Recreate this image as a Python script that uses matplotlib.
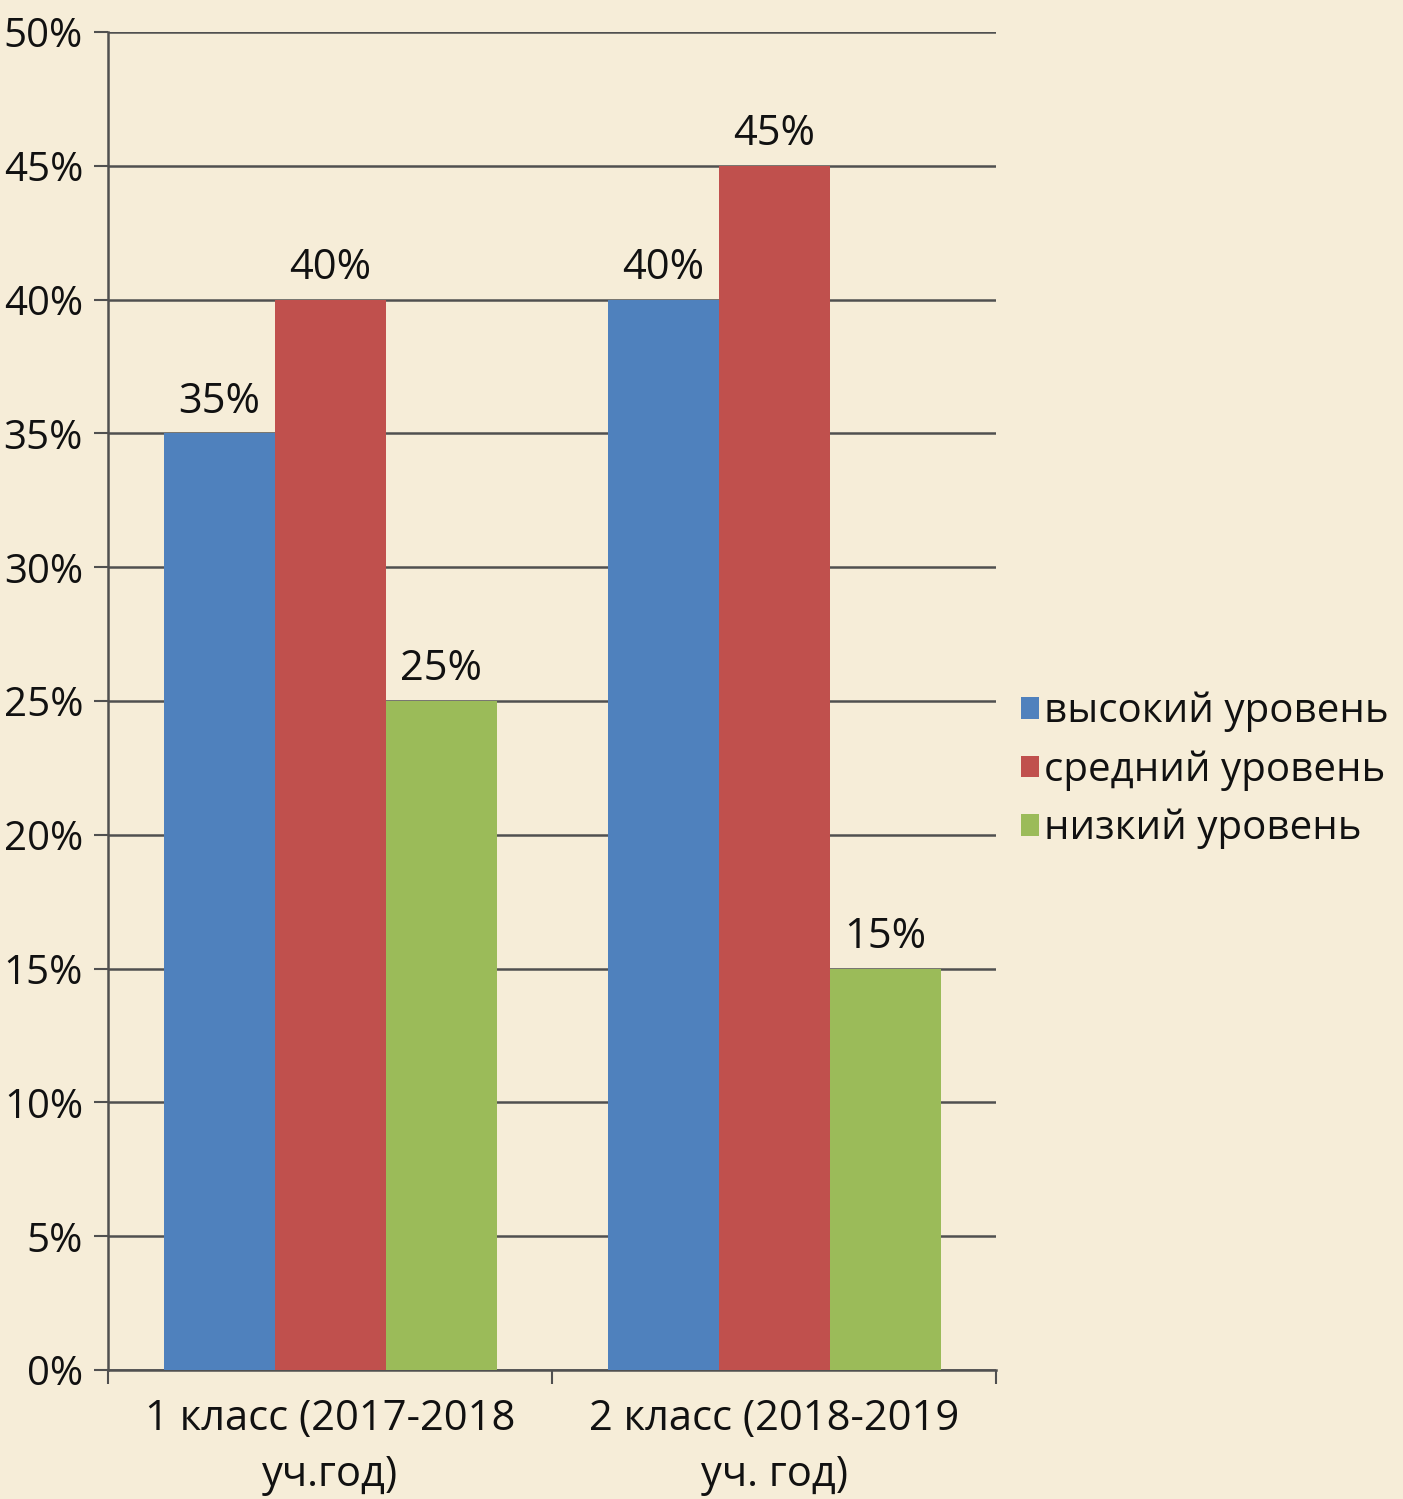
import numpy as np
import matplotlib.pyplot as plt

categories = ['1 класс (2017-2018\nуч.год)', '2 класс (2018-2019\nуч. год)']
series_names = ['высокий уровень', 'средний уровень', 'низкий уровень']
high = [35, 40]
mid = [40, 45]
low = [25, 15]
colors = ['#4F81BD', '#C0504D', '#9BBB59']
yticks = list(range(0, 55, 5))

plt.rcParams['font.family'] = ['Open Sans', 'DejaVu Sans']
bg = '#F6EDD8'
txt = '#111111'

fig = plt.figure(figsize=(14.03, 14.99), dpi=100, facecolor=bg)
ax = fig.add_axes([0.077, 0.086, 0.633, 0.8926])
ax.set_facecolor(bg)

x = np.arange(len(categories))
w = 0.25
for i, (vals, name) in enumerate(zip([high, mid, low], series_names)):
    bars = ax.bar(x + (i - 1) * w, vals, w, color=colors[i], label=name, zorder=3)
    for b, v in zip(bars, vals):
        ax.text(b.get_x() + b.get_width() / 2, v + 0.4, f'{v}%', ha='center', va='bottom',
                fontsize=30, color=txt, zorder=4)

ax.set_xlim(-0.5, 1.5)
ax.set_ylim(0, 50)
ax.set_yticks(yticks)
ax.set_yticklabels([f'{t}%' for t in yticks], fontsize=29, color=txt)
ax.yaxis.grid(True, color='#505050', linewidth=1.8, zorder=0)
ax.set_axisbelow(True)

ax.set_xticks([-0.5, 0.5, 1.5])
ax.set_xticklabels([])
ax.set_xticks(x, minor=True)
ax.set_xticklabels(categories, minor=True, fontsize=30, color=txt, linespacing=1.45)
ax.tick_params(axis='x', which='minor', length=0, pad=20)
ax.tick_params(axis='x', which='major', length=10, width=1.5, color='#505050', direction='out')
ax.tick_params(axis='y', length=10, width=1.5, color='#505050', pad=8)

for s in ['top', 'right']:
    ax.spines[s].set_visible(False)
for s in ['left', 'bottom']:
    ax.spines[s].set_color('#505050')
    ax.spines[s].set_linewidth(1.8)

fig.legend(loc='center left', bbox_to_anchor=(0.702, 0.486), frameon=False, fontsize=29,
           handlelength=0.45, handleheight=0.45, handletextpad=0.12, labelspacing=0.45,
           labelcolor=txt)

fig.savefig('out.png', dpi=100, facecolor=bg)
